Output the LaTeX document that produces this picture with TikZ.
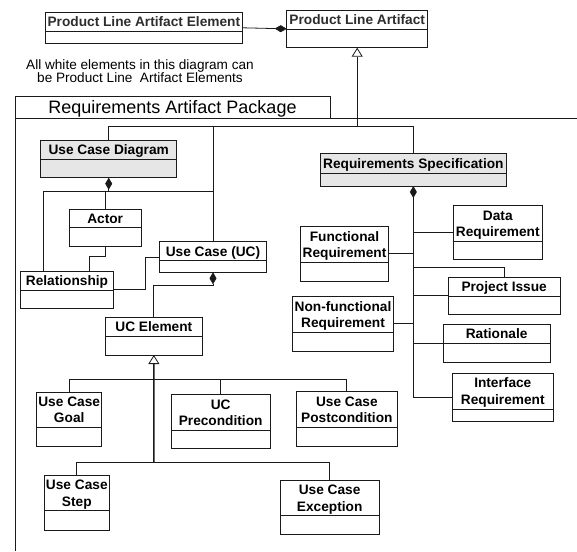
\documentclass[tikz,border=0pt]{standalone}
\usepackage{fontspec}
\setmainfont{Liberation Sans}
\usetikzlibrary{arrows.meta}

\definecolor{shade}{HTML}{E6E6E6}
\definecolor{ink}{HTML}{1A1A1A}

\tikzset{
  classframe/.style={draw=ink, line width=0.9pt, inner sep=0pt, outer sep=0pt, anchor=north west},
  divider/.style={draw=ink, line width=0.9pt},
  classtitle/.style={font=\fontsize{13.7pt}{16.5pt}\selectfont\bfseries, align=center,
                     inner sep=0pt, text height=9.8pt, text depth=0pt},
  twolines/.style={text height=26.3pt},
  link/.style={draw=ink, line width=0.8pt},
  trunk/.style={draw=ink, line width=1.6pt},
  compose/.style={-{Diamond[length=12pt,width=7pt]}},
  composed/.style={{Diamond[length=12pt,width=7pt]}-},
  generalize/.style={-{Triangle[fill=white,length=9pt,width=11pt,line width=0.8pt]}},
  pkgline/.style={draw=ink, line width=0.9pt},
  note/.style={font=\fontsize{13.6pt}{13.4pt}\selectfont, align=center, inner sep=0pt,
               text height=23.2pt, text depth=0pt},
}

% UML class: name, left, top, right, divider, bottom, fill, title, title options
\newcommand{\umlclass}[9]{%
  \node[classframe, fill=#7, minimum width={(#4)-(#2)}, minimum height={(#6)-(#3)}] (#1) at (#2,#3) {};
  \draw[divider] (#2,#5) -- (#4,#5);
  \node[classtitle,#9] (#1-title) at ({(#2+#4)/2},{(#3+#5)/2}) {#8};
}

\begin{document}
\begin{tikzpicture}[x=1pt,y=-1pt]
\useasboundingbox (0,0) rectangle (577,551);

% package frame and tab
\draw[pkgline] (15,551) -- (15,118.3) -- (577,118.3);
\node[classframe, minimum width=315, minimum height=22.3] (tab) at (15,96) {};
\node[font=\fontsize{18pt}{20pt}\selectfont, inner sep=0pt, text height=12.9pt, text depth=0pt]
  (tabtitle) at (172.5,106.6) {Requirements Artifact Package};

% note
\node[note] (remark) at (140,71.1) {All white elements in this diagram can\\be Product Line~ Artifact Elements};

% classes
\umlclass{plae}{45}{12.3}{242.7}{31.7}{43.3}{white}{\color{black!82}Product Line Artifact Element}{}
\umlclass{pla}{286.7}{10}{427.7}{29}{47.7}{white}{\color{black!82}Product Line Artifact}{}
\umlclass{ucd}{40.7}{140.7}{176.7}{159.3}{177.7}{shade}{Use Case Diagram}{}
\umlclass{actor}{69.3}{209}{141}{227.7}{246.7}{white}{Actor}{}
\umlclass{rel}{20.7}{271}{113.3}{290}{308.3}{white}{Relationship}{}
\umlclass{uc}{159.3}{241.7}{266.7}{260.7}{272.3}{white}{Use Case (UC)}{}
\umlclass{uce}{105}{317.3}{202.7}{336.7}{355}{white}{UC Element}{}
\umlclass{goal}{36.7}{392}{101.7}{427.3}{446}{white}{Use Case\\Goal}{twolines}
\umlclass{prec}{171.3}{394.7}{270}{430}{448.3}{white}{UC\\Precondition}{twolines}
\umlclass{post}{296}{391.7}{397.7}{427.7}{446.7}{white}{Use Case\\Postcondition}{twolines}
\umlclass{step}{44.3}{475}{109.3}{510.7}{530}{white}{Use Case\\Step}{twolines}
\umlclass{exc}{280}{480}{379.3}{515.7}{534}{white}{Use Case\\Exception}{twolines}
\umlclass{rs}{320}{153.3}{506.7}{173.3}{186}{shade}{Requirements Specification}{}
\umlclass{fr}{300.7}{226.7}{388.3}{262.3}{281}{white}{Functional\\Requirement}{twolines}
\umlclass{dr}{453.3}{205.7}{542.3}{241.7}{259.3}{white}{Data\\Requirement}{twolines}
\umlclass{pi}{448.3}{277.3}{560}{296.7}{314.3}{white}{Project Issue}{}
\umlclass{nfr}{292.7}{296.7}{393.3}{332.3}{351}{white}{Non-functional\\Requirement}{twolines}
\umlclass{rat}{443.3}{324.3}{550}{343.3}{362.3}{white}{Rationale}{}
\umlclass{ifr}{452.3}{373.3}{553.3}{409.3}{421.7}{white}{Interface\\Requirement}{twolines}

% junction points
\coordinate (rabar) at (357.2,126.7);
\coordinate (ucdbar) at (108.7,191);
\coordinate (relhook) at (43.3,271);
\coordinate (pibend) at (413.3,267.7);
\coordinate (ucebar) at (153.85,379.3);
\coordinate (stepbar) at (153.85,462.3);

% product line artifact composition and generalization
\draw[link, compose] (plae.east) -- (pla.west);
\draw[link] (ucd.north) |- (rabar) -| (rs.north);
\draw[link] (uc.north) -- (uc.north |- rabar);
\draw[link, generalize] (rabar) -- (pla.south);

% use case diagram composition
\draw[link, composed] (ucd.south) -- (ucdbar);
\draw[link] (relhook) |- (uc.north |- ucdbar);
\draw[link] (actor.north) -- (actor.north |- ucdbar);
\draw[link] (actor.south) -- ++(0,10) -| ([xshift=22.3pt]rel.north);
\draw[link] (rel.east) -- ++(32.4,0) |- (uc.west);

% use case composition
\draw[link, composed] (uc.south) -- ++(0,13.4) -| (uce.north);

% UC element specialisations
\draw[trunk, generalize] (stepbar) -- (uce.south);
\draw[link] (goal.north) |- (ucebar) -| (post.north);
\draw[link] (prec.north) -- (prec.north |- ucebar);
\draw[link] (step.north) |- (stepbar) -| (exc.north);

% requirements specification composition
\draw[trunk, composed] (rs.south) -- (rs.south |- ifr.west);
\draw[link] (rs.south |- ifr.west) -- (ifr.west);
\draw[link] (fr.east) -- (fr.east -| rs.south);
\draw[link] (dr.west) -- (dr.west -| rs.south);
\draw[link] (pi.north) |- (pibend);
\draw[link] (pi.west) -- (pi.west -| rs.south);
\draw[link] (nfr.east) -- (nfr.east -| rs.south);
\draw[link] (rat.west) -- (rat.west -| rs.south);
\end{tikzpicture}
\end{document}
